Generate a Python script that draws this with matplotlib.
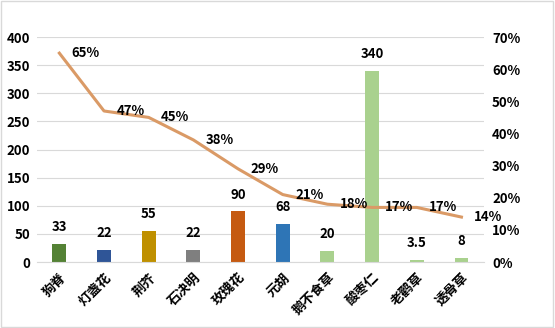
import matplotlib
matplotlib.use("Agg")
import matplotlib.pyplot as plt
from matplotlib.ticker import FuncFormatter, MultipleLocator
from matplotlib.patches import Rectangle

plt.rcParams['font.family'] = ['Noto Sans CJK SC', 'DejaVu Sans']

categories = ['狗脊', '灯盏花', '荆芥', '石决明', '玫瑰花', '元胡', '鹅不食草', '酸枣仁', '老鹳草', '透骨草']
bar_values = [33, 22, 55, 22, 90, 68, 20, 340, 3.5, 8]
bar_labels = ['33', '22', '55', '22', '90', '68', '20', '340', '3.5', '8']
line_values = [0.65, 0.47, 0.45, 0.38, 0.29, 0.21, 0.18, 0.17, 0.17, 0.14]
bar_colors = ['#548235', '#2F5597', '#BF9000', '#7F7F7F', '#C55A11', '#2E75B6',
              '#A9D18E', '#A9D18E', '#A9D18E', '#A9D18E']
line_color = '#DA9A66'

NUM_FS = 9.5

fig = plt.figure(figsize=(5.55, 3.28), dpi=100)
fig.patches.append(Rectangle((0.002, 0.003), 0.995, 0.994, transform=fig.transFigure,
                             fill=False, edgecolor='#D9D9D9', linewidth=1.0))
ax = fig.add_axes([0.0667, 0.201, 0.805, 0.686])
x = list(range(len(categories)))
ax.bar(x, bar_values, width=0.31, color=bar_colors, zorder=2)
ax.set_xlim(-0.5, len(categories) - 0.5)
ax.set_ylim(0, 400)
ax.yaxis.set_major_locator(MultipleLocator(50))
ax.grid(axis='y', color='#D9D9D9', linewidth=0.8, zorder=0)
ax.set_axisbelow(True)
for s in ['top', 'right', 'left']:
    ax.spines[s].set_visible(False)
ax.spines['bottom'].set_color('#D9D9D9')
ax.tick_params(axis='both', length=0)
ax.tick_params(axis='y', pad=5)
for lab in ax.get_yticklabels():
    lab.set_fontweight('bold')
    lab.set_fontsize(NUM_FS)
ax.set_xticks(x)
ax.set_xticklabels(categories, rotation=45, ha='right', rotation_mode='anchor',
                   fontsize=9.5, fontweight='bold')
ax.tick_params(axis='x', pad=6)

for xi, v, t in zip(x, bar_values, bar_labels):
    ax.annotate(t, (xi, v), xytext=(0, 7), textcoords='offset points',
                ha='center', va='bottom', fontsize=NUM_FS, fontweight='bold')

ax2 = ax.twinx()
ax2.set_ylim(0, 0.7)
ax2.yaxis.set_major_locator(MultipleLocator(0.1))
ax2.yaxis.set_major_formatter(FuncFormatter(lambda v, p: f'{round(v*100)}%'))
for s in ['top', 'right', 'left', 'bottom']:
    ax2.spines[s].set_visible(False)
ax2.tick_params(axis='y', length=0, pad=6)
for lab in ax2.get_yticklabels():
    lab.set_fontweight('bold')
    lab.set_fontsize(NUM_FS)
ax2.plot(x, line_values, color=line_color, linewidth=2.2, zorder=3)
for xi, v in zip(x, line_values):
    ax2.annotate(f'{round(v*100)}%', (xi, v), xytext=(9, 0), textcoords='offset points',
                 ha='left', va='center', fontsize=NUM_FS, fontweight='bold')

fig.savefig('out.png', dpi=100)
